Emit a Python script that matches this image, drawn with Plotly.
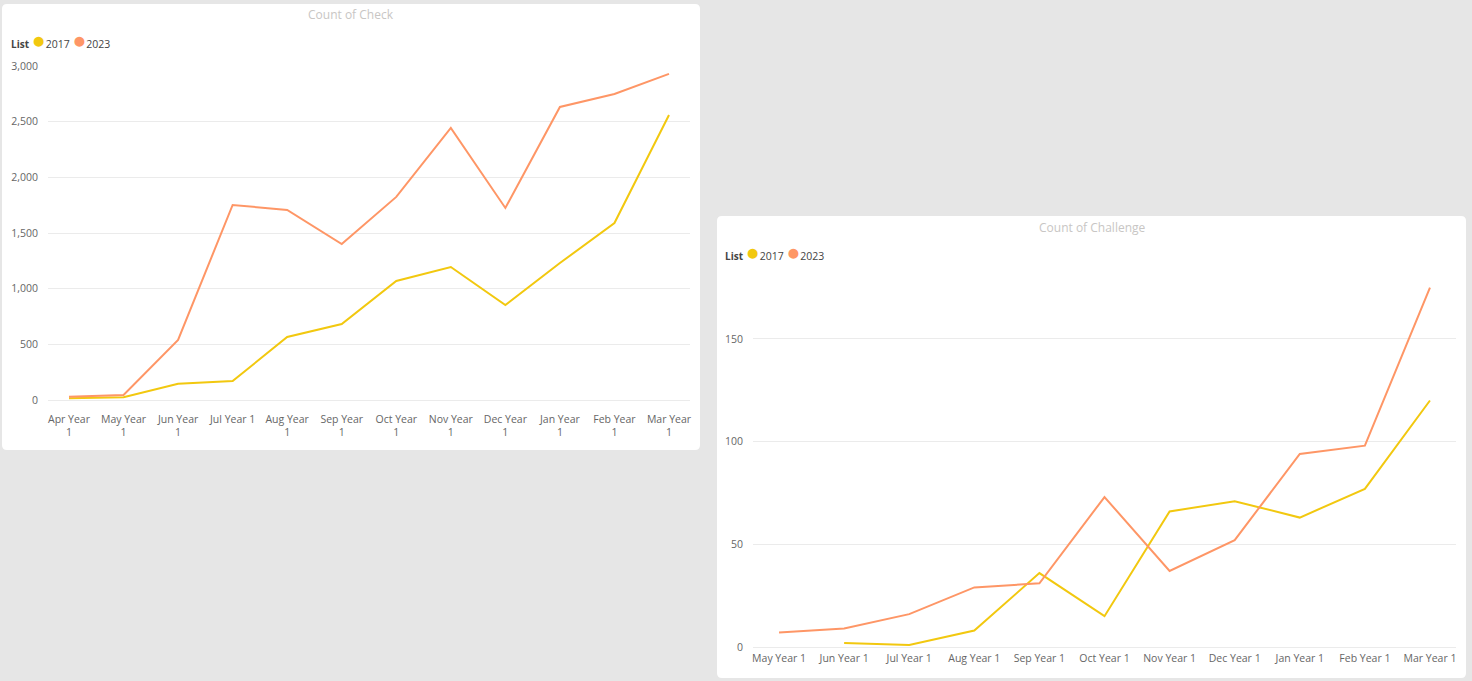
"""Count of Check / Count of Challenge by month, 2017 vs 2023 lists"""
import plotly.graph_objects as go

W, H = 1472, 681

COLOR_2017 = "#F2C80F"
COLOR_2023 = "#FE9666"
TICK_COLOR = "#666666"
GRID_COLOR = "#ebebeb"
FONT = "Segoe UI, Open Sans, sans-serif"

# --- data: Count of Check ---
check_months = ["Apr Year 1", "May Year 1", "Jun Year 1", "Jul Year 1", "Aug Year 1", "Sep Year 1",
                "Oct Year 1", "Nov Year 1", "Dec Year 1", "Jan Year 1", "Feb Year 1", "Mar Year 1"]
check_ticktext = ["Apr Year<br>1", "May Year<br>1", "Jun Year<br>1", "Jul Year 1<br> ", "Aug Year<br>1",
                  "Sep Year<br>1", "Oct Year<br>1", "Nov Year<br>1", "Dec Year<br>1", "Jan Year<br>1",
                  "Feb Year<br>1", "Mar Year<br>1"]
check_2017 = [15, 25, 145, 170, 566, 683, 1069, 1195, 853, 1230, 1590, 2560]
check_2023 = [30, 45, 539, 1752, 1707, 1401, 1824, 2444, 1725, 2632, 2749, 2929]

# --- data: Count of Challenge ---
challenge_months = ["May Year 1", "Jun Year 1", "Jul Year 1", "Aug Year 1", "Sep Year 1", "Oct Year 1",
                    "Nov Year 1", "Dec Year 1", "Jan Year 1", "Feb Year 1", "Mar Year 1"]
challenge_2017 = [None, 2, 1, 8, 36, 15, 66, 71, 63, 77, 120]
challenge_2023 = [7, 9, 16, 29, 31, 73, 37, 52, 94, 98, 175]


def px_x(v):
    return v / W


def px_y(v):
    return 1 - v / H


def rounded_panel(x0, y0, x1, y1, r=5):
    # pixel box -> paper-coordinate path with rounded corners
    rx, ry = r / W, r / H
    a, b, c, d = px_x(x0), px_y(y1), px_x(x1), px_y(y0)
    return (f"M{a + rx},{b} L{c - rx},{b} Q{c},{b} {c},{b + ry} L{c},{d - ry} Q{c},{d} {c - rx},{d} "
            f"L{a + rx},{d} Q{a},{d} {a},{d - ry} L{a},{b + ry} Q{a},{b} {a + rx},{b} Z")


fig = go.Figure()

for vals, name, color in [(check_2017, "2017", COLOR_2017), (check_2023, "2023", COLOR_2023)]:
    fig.add_trace(go.Scatter(
        x=check_months, y=vals, name=name, mode="lines",
        line=dict(color=color, width=2), xaxis="x", yaxis="y", showlegend=False,
        hovertemplate="%{x}<br>Count of Check: %{y:,}<extra>" + name + "</extra>",
    ))

for vals, name, color in [(challenge_2017, "2017", COLOR_2017), (challenge_2023, "2023", COLOR_2023)]:
    fig.add_trace(go.Scatter(
        x=challenge_months, y=vals, name=name, mode="lines",
        line=dict(color=color, width=2), xaxis="x2", yaxis="y2", showlegend=False,
        hovertemplate="%{x}<br>Count of Challenge: %{y:,}<extra>" + name + "</extra>",
    ))

axis_common = dict(
    showline=False, ticks="", tickfont=dict(size=10.5, color=TICK_COLOR, family=FONT),
    fixedrange=True, automargin=False,
)

fig.update_layout(
    width=W, height=H,
    margin=dict(l=0, r=0, t=0, b=0, pad=0, autoexpand=False),
    paper_bgcolor="#e6e6e6",
    plot_bgcolor="rgba(0,0,0,0)",
    font=dict(family=FONT, color=TICK_COLOR),
    xaxis=dict(
        domain=[px_x(48), px_x(690)], range=[-0.385, 11.385], anchor="y",
        tickmode="array", tickvals=check_months, ticktext=check_ticktext,
        showgrid=False, ticklabelstandoff=11, **axis_common,
    ),
    yaxis=dict(
        domain=[px_y(400), px_y(66)], range=[0, 3000], anchor="x",
        dtick=500, tickformat=",", showgrid=True, gridcolor=GRID_COLOR, gridwidth=1,
        zeroline=True, zerolinecolor=GRID_COLOR, zerolinewidth=1, ticklabelstandoff=9,
        **axis_common,
    ),
    xaxis2=dict(
        domain=[px_x(753), px_x(1456)], range=[-0.4, 10.4], anchor="y2",
        showgrid=False, ticklabelstandoff=3, **axis_common,
    ),
    yaxis2=dict(
        domain=[px_y(647), px_y(267)], range=[0, 185], anchor="x2",
        dtick=50, showgrid=True, gridcolor=GRID_COLOR, gridwidth=1,
        zeroline=True, zerolinecolor=GRID_COLOR, zerolinewidth=1, ticklabelstandoff=9,
        **axis_common,
    ),
    shapes=[
        dict(type="path", path=rounded_panel(2, 4, 700, 450), xref="paper", yref="paper",
             fillcolor="white", line=dict(width=0), layer="below"),
        dict(type="path", path=rounded_panel(717, 216, 1466, 678), xref="paper", yref="paper",
             fillcolor="white", line=dict(width=0), layer="below"),
    ],
)

dot = "<span style='font-size:23px;color:{}'>●</span>"
legend_text = (f"<span style='font-size:10px'><b>List</b></span> "
               f"{dot.format(COLOR_2017)}2017 {dot.format(COLOR_2023)}2023")

for title, cx, ty, lx, ly in [("Count of Check", 351, 15, 9, 39),
                              ("Count of Challenge", 1092, 228, 723, 251)]:
    fig.add_annotation(text=title, x=px_x(cx), y=px_y(ty), xref="paper", yref="paper",
                       xanchor="center", yanchor="middle", showarrow=False,
                       font=dict(size=12, color="#c8c6c4", family=FONT))
    fig.add_annotation(text=legend_text, x=px_x(lx), y=px_y(ly), xref="paper", yref="paper",
                       xanchor="left", yanchor="middle", showarrow=False,
                       font=dict(size=10.5, color="#444444", family=FONT))

fig.write_html(
    "out.html",
    config={"displayModeBar": False},
    post_script=(
        "document.body.style.margin='0';document.body.style.overflow='hidden';"
        "var d=document.getElementById('{plot_id}');"
        "d.style.position='fixed';d.style.top='0px';d.style.left='0px';"
    ),
)
